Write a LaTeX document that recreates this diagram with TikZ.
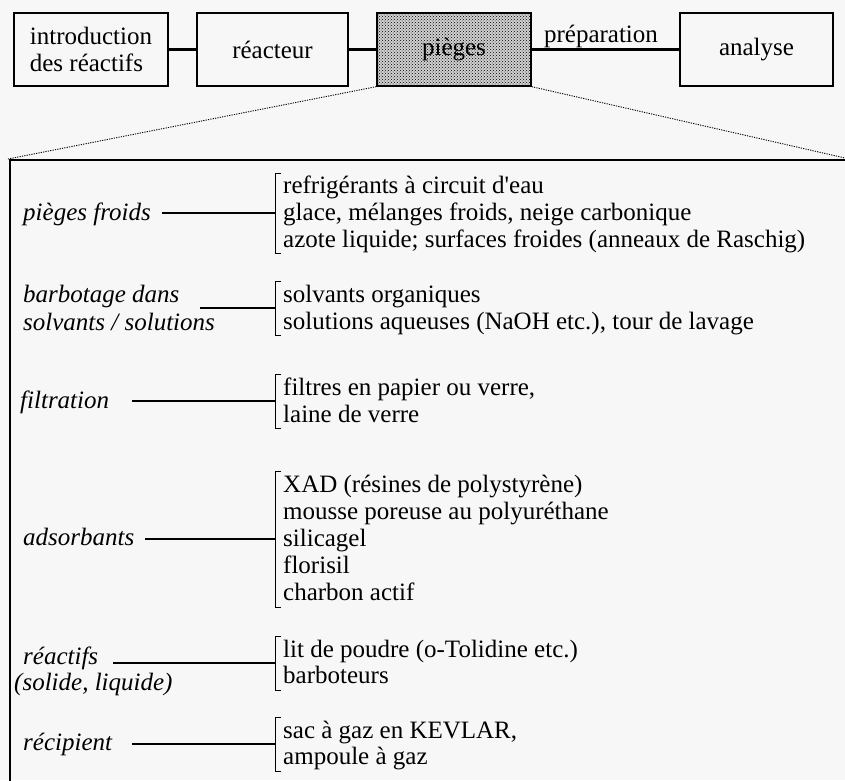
\documentclass[tikz,border=0pt]{standalone}
\usepackage{fontspec}
\setmainfont{Liberation Serif}[Ligatures=TeXOff]
\usetikzlibrary{patterns}
\newcommand{\txtsize}{\fontsize{25}{27}\selectfont}
\begin{document}
\begin{tikzpicture}[x=1pt,y=-1pt,
  topbox/.style={draw=black, line width=1.3pt, inner sep=0pt, minimum height=73pt, font=\txtsize, align=center},
  link/.style={line width=3.6pt},
  thinlink/.style={line width=2.6pt},
  zoomline/.style={line width=0.9pt, dash pattern=on 1.2pt off 1.2pt},
  frame/.style={line width=1.5pt},
  cat/.style={anchor=base west, inner sep=0pt, font=\itshape\txtsize},
  item/.style={anchor=base west, inner sep=0pt, font=\txtsize},
  tie/.style={line width=1.1pt},
  brace/.style={line width=1pt}]
\fill[white!97!black] (0,0) rectangle (845,780);
\useasboundingbox (0,0) rectangle (845,780);

% top chain
\node[topbox, minimum width=154pt, align=left] (intro) at (91,49.5) {introduction\\des réactifs};
\node[topbox, minimum width=151pt] (reac) at (272.5,49.5) {réacteur};
\node[topbox, minimum width=154pt, fill=black!18, postaction={pattern=crosshatch dots}] (pieges) at (454,49.5) {pièges};
\node[topbox, minimum width=153pt] (ana) at (756.5,49.5) {analyse};
\draw[link] (intro) -- (reac);
\draw[link] (reac) -- (pieges);
\draw[thinlink] (pieges) -- (ana);
\node[anchor=base, inner sep=0pt, font=\txtsize] (prep) at (601,42) {préparation};

% zoom lines and frame
\coordinate (zl) at (8,159);
\coordinate (zr) at (845,158);
\draw[zoomline] (pieges.south west) -- (zl);
\draw[zoomline] (pieges.south east) -- (zr);
\draw[frame] (10,781) -- (10,160) -- (846,160);

% group 1
\node[cat] (c1) at (23,220) {pièges froids};
\coordinate (s1) at (162,213);
\coordinate (b1) at (275,213);
\draw[tie] (s1) -- (b1);
\draw[brace] (281,173) -- (275,173) -- (275,253) -- (281,253);
\node[item] (i11) at (283,193) {refrigérants à circuit d'eau};
\node[item] (i12) at (283,220) {glace, mélanges froids, neige carbonique};
\node[item] (i13) at (283,247) {azote liquide; surfaces froides (anneaux de Raschig)};

% group 2
\node[cat] (c2a) at (23,302) {barbotage dans};
\node[cat] (c2b) at (23,330) {solvants / solutions};
\coordinate (s2) at (200,308);
\coordinate (b2) at (275,308);
\draw[tie] (s2) -- (b2);
\draw[brace] (281,281) -- (275,281) -- (275,335) -- (281,335);
\node[item] (i21) at (283,302) {solvants organiques};
\node[item] (i22) at (283,329) {solutions aqueuses (NaOH etc.), tour de lavage};

% group 3
\node[cat] (c3) at (20,408) {filtration};
\coordinate (s3) at (132,401);
\coordinate (b3) at (275,401);
\draw[tie] (s3) -- (b3);
\draw[brace] (281,374) -- (275,374) -- (275,428) -- (281,428);
\node[item] (i31) at (283,395) {filtres en papier ou verre,};
\node[item] (i32) at (283,422) {laine de verre};

% group 4
\node[cat] (c4) at (23,545) {adsorbants};
\coordinate (s4) at (145,539);
\coordinate (b4) at (275,539);
\draw[tie] (s4) -- (b4);
\draw[brace] (281,471) -- (275,471) -- (275,607) -- (281,607);
\node[item] (i41) at (283,492) {XAD (résines de polystyrène)};
\node[item] (i42) at (283,519) {mousse poreuse au polyuréthane};
\node[item] (i43) at (283,546) {silicagel};
\node[item] (i44) at (283,573) {florisil};
\node[item] (i45) at (283,600) {charbon actif};

% group 5
\node[cat] (c5a) at (23,664) {réactifs};
\node[cat] (c5b) at (14,690) {(solide, liquide)};
\coordinate (s5) at (113,663);
\coordinate (b5) at (275,663);
\draw[tie] (s5) -- (b5);
\draw[brace] (281,636) -- (275,636) -- (275,690) -- (281,690);
\node[item] (i51) at (283,657) {lit de poudre (o-Tolidine etc.)};
\node[item] (i52) at (283,683) {barboteurs};

% group 6
\node[cat] (c6) at (23,750) {récipient};
\coordinate (s6) at (132,744);
\coordinate (b6) at (275,744);
\draw[tie] (s6) -- (b6);
\draw[brace] (281,717) -- (275,717) -- (275,771) -- (281,771);
\node[item] (i61) at (283,738) {sac à gaz en KEVLAR,};
\node[item] (i62) at (283,764) {ampoule à gaz};
\end{tikzpicture}
\end{document}
